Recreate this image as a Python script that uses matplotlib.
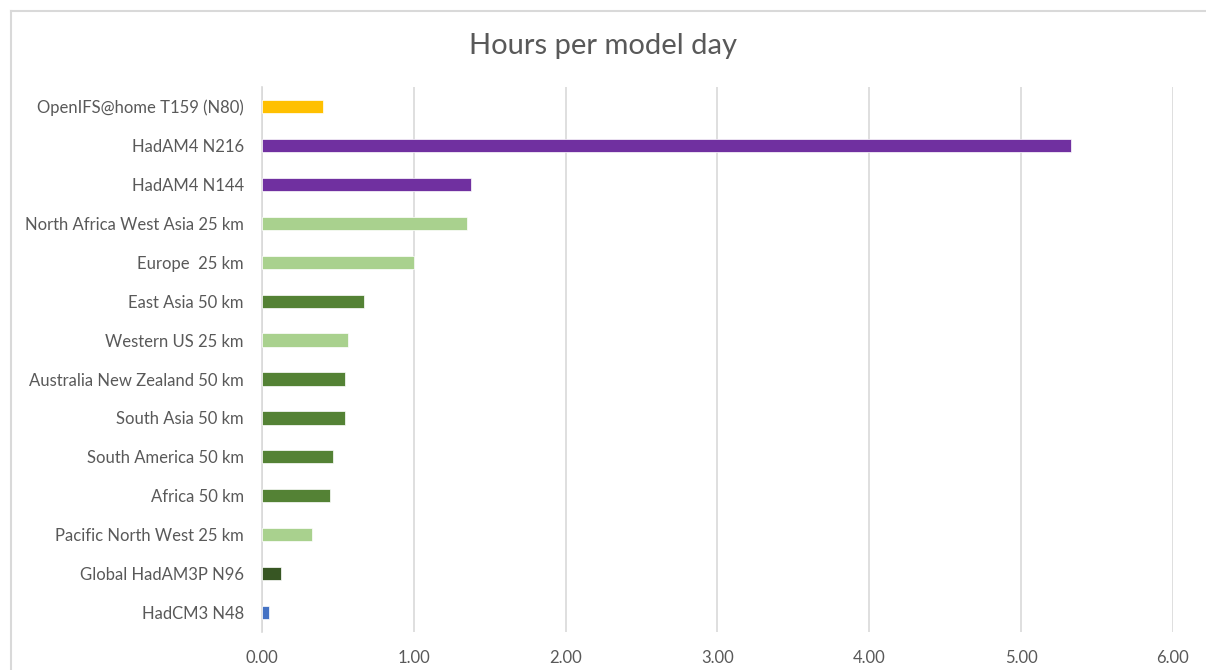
import matplotlib
matplotlib.use("Agg")
from matplotlib import pyplot as plt
from matplotlib.lines import Line2D

plt.rcParams['font.family'] = ['Lato', 'DejaVu Sans']

# data, top to bottom as shown
models = ['OpenIFS@home T159 (N80)', 'HadAM4 N216', 'HadAM4 N144',
          'North Africa West Asia 25 km', 'Europe  25 km', 'East Asia 50 km',
          'Western US 25 km', 'Australia New Zealand 50 km', 'South Asia 50 km',
          'South America 50 km', 'Africa 50 km', 'Pacific North West 25 km',
          'Global HadAM3P N96', 'HadCM3 N48']
hours = [0.40, 5.33, 1.38, 1.35, 1.00, 0.67, 0.57, 0.55, 0.545, 0.47, 0.45,
         0.33, 0.125, 0.046]
colors = ['#FFC000', '#7030A0', '#7030A0', '#A9D18E', '#A9D18E', '#548235',
          '#A9D18E', '#548235', '#548235', '#548235', '#548235', '#A9D18E',
          '#375623', '#4472C4']
xticks = [0, 1, 2, 3, 4, 5, 6]

fig = plt.figure(figsize=(12.06, 6.70), dpi=100)
ax = fig.add_axes([0.2172, 0.0567, 0.7554, 0.8133])

ypos = list(range(len(models)))
ax.barh(ypos, hours, height=0.34, color=colors, edgecolor='white', linewidth=0.5, zorder=3)
ax.set_ylim(len(models) - 0.5, -0.5)
ax.set_yticks(ypos)
ax.set_yticklabels(models, fontsize=12, color='#595959')
ax.set_xlim(0, 6)
ax.set_xticks(xticks)
ax.set_xticklabels(['%.2f' % t for t in xticks], fontsize=12, color='#595959')
ax.tick_params(length=0, pad=13, axis='y')
ax.tick_params(length=0, pad=13, axis='x')
ax.grid(axis='x', color='#D9D9D9', linewidth=1.2, zorder=0)
for s in ['top', 'right', 'bottom']:
    ax.spines[s].set_visible(False)
ax.spines['left'].set_color('#D9D9D9')
ax.spines['left'].set_linewidth(1.2)

fig.text(0.5, 0.932, 'Hours per model day', ha='center', va='center',
         fontsize=21, color='#595959')

# outer chart border (left and top only visible)
fig.add_artist(Line2D([11/1206, 11/1206], [0, 1 - 11/670], color='#D9D9D9', lw=1.5))
fig.add_artist(Line2D([11/1206, 1], [1 - 11/670, 1 - 11/670], color='#D9D9D9', lw=1.5))

fig.savefig('out.png', dpi=100)
